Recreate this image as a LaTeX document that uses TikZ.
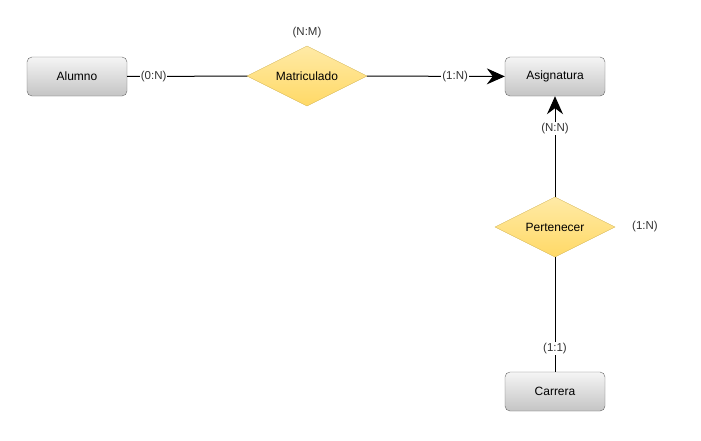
\documentclass[tikz,border=0pt]{standalone}
\usepackage{fontspec}
\setmainfont{Liberation Sans}
\usetikzlibrary{shapes.geometric,arrows.meta}
\definecolor{boxtop}{HTML}{F5F5F5}
\definecolor{boxbot}{HTML}{C4C4C4}
\definecolor{boxline}{HTML}{666666}
\definecolor{dtop}{HTML}{FFEAA6}
\definecolor{dbot}{HTML}{FFD966}
\definecolor{dline}{HTML}{D6B656}
\definecolor{txt}{HTML}{333333}
\tikzset{
  entity/.style={draw=boxline, rounded corners=5pt, top color=boxtop, bottom color=boxbot,
    minimum width=100pt, minimum height=39pt, inner sep=0pt, font=\fontsize{12}{14}\selectfont, text=black},
  rel/.style={diamond, aspect=2, draw=dline, top color=dtop, bottom color=dbot,
    minimum width=120pt, minimum height=60pt, inner sep=0pt, outer sep=0pt, font=\fontsize{12}{14}\selectfont, text=black},
  card/.style={fill=white, inner sep=1pt, font=\fontsize{11.5}{14}\selectfont, text=txt},
  freecard/.style={inner sep=1pt, font=\fontsize{11.5}{14}\selectfont, text=txt},
  conn/.style={draw=black, line width=1pt},
  tip/.style={-{Stealth[length=18pt, width=16pt, inset=6pt]}}
}
\begin{document}
\begin{tikzpicture}[x=1pt,y=-1pt]
\useasboundingbox (0,0) rectangle (701,440);
\node[entity] (alumno) at (77,76.5) {Alumno};
\node[rel] (matric) at (307,76) {Matriculado};
\node[entity] (asig) at (555,76.5) {Asignatura};
\node[rel] (pert) at (555,227) {Pertenecer};
\node[entity] (carrera) at (555,391.5) {Carrera};

\draw[conn] (alumno) -- node[card, pos=0.22] {(0:N)} (matric);
\draw[conn, tip] (matric) -- node[card, pos=0.64] {(1:N)} (asig);
\draw[conn, tip] (pert) -- node[card, pos=0.68] {(N:N)} (asig);
\draw[conn] (pert) -- node[card, pos=0.80] {(1:1)} (carrera);

\node[freecard] (nm) at (307,33) {(N:M)};
\node[freecard] (pn) at (645,227) {(1:N)};
\end{tikzpicture}
\end{document}
